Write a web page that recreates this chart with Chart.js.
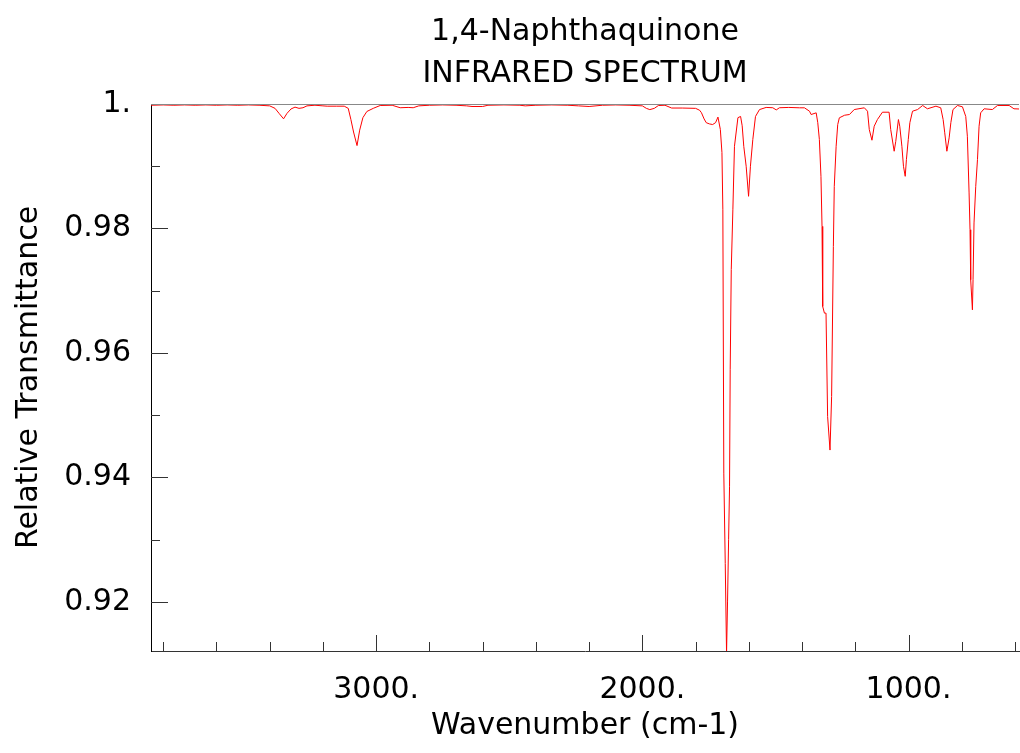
<!DOCTYPE html>
<html>
<head>
<meta charset="utf-8">
<script src="https://cdn.jsdelivr.net/npm/chart.js@4/dist/chart.umd.min.js"></script>
<style>
  body { margin: 0; background: #fff; }
  canvas { display: block; }
</style>
</head>
<body>
<canvas id="irChart" width="1020" height="753"></canvas>
<script>
// Spectrum (wavenumber in cm-1, relative transmittance)
const wavenumbers = [
  3846, 3800, 3760, 3720, 3680, 3640, 3600, 3560, 3520, 3480, 3440, 3400,
  3380, 3365, 3348, 3335, 3320, 3305, 3290, 3275, 3260, 3230, 3200, 3184,
  3150, 3120, 3105, 3095, 3085, 3072, 3062, 3050, 3035, 3011, 2985, 2940,
  2910, 2880, 2861, 2840, 2800, 2750, 2700, 2660, 2640, 2600, 2580, 2520,
  2460, 2440, 2400, 2340, 2280, 2240, 2200, 2150, 2100, 2050, 2000, 1985,
  1972, 1955, 1940, 1915, 1890, 1850, 1800, 1785, 1778, 1768, 1760, 1748,
  1736, 1725, 1716, 1707, 1701, 1697.6, 1694, 1688.6, 1683.7, 1680, 1676, 1672.5,
  1670, 1666, 1660, 1654, 1641, 1631, 1625, 1619, 1610, 1601, 1594, 1585,
  1575, 1560, 1535, 1510, 1497, 1485, 1450, 1410, 1391, 1372, 1366, 1347,
  1341, 1335, 1329, 1325, 1322.5, 1316, 1310, 1304, 1295, 1289, 1282.4, 1279,
  1272, 1266, 1260, 1240, 1222, 1204, 1166, 1154, 1147.5, 1137.5, 1129, 1117,
  1098, 1073, 1067, 1054, 1048, 1038, 1033, 1025, 1019, 1012.5, 1008, 1001,
  995, 985, 966, 947, 929, 897, 879, 870, 864, 856, 847.5, 841,
  833, 816, 797.5, 785, 779, 772.5, 769, 766.5, 760, 757.6, 754, 747.5,
  741, 735, 729, 716, 685, 666, 622, 604, 585
];
const transmittance = [
  0.9998, 0.99985, 0.9998, 0.99985, 0.9998, 0.99985, 0.9998, 0.99985, 0.9998, 0.99985, 0.9998, 0.9997,
  0.9993, 0.9985, 0.99762, 0.9985, 0.9992, 0.9995, 0.9993, 0.9994, 0.9997, 0.9998, 0.9997, 0.99965,
  0.99965, 0.99965, 0.9993, 0.9975, 0.9955, 0.99332, 0.9958, 0.9978, 0.9988, 0.9993, 0.99976, 0.9998,
  0.9994, 0.99945, 0.9994, 0.9997, 0.9998, 0.99985, 0.9998, 0.9997, 0.9996, 0.9996, 0.9998, 0.99985,
  0.9998, 0.9997, 0.9998, 0.99985, 0.9998, 0.9997, 0.9996, 0.9998, 0.99985, 0.9998, 0.9997, 0.9993,
  0.9991, 0.9993, 0.99975, 0.9998, 0.99935, 0.99935, 0.9993, 0.9990, 0.9986, 0.9976, 0.9970, 0.9968,
  0.9967, 0.9970, 0.9979, 0.9959, 0.9922, 0.983, 0.9407, 0.9262, 0.9118, 0.9200, 0.9300, 0.9385,
  0.9573, 0.9734, 0.983, 0.9932, 0.9978, 0.998, 0.9965, 0.9932, 0.990, 0.98517, 0.990, 0.9943,
  0.998, 0.9991, 0.99945, 0.9994, 0.99905, 0.9994, 0.99945, 0.99939, 0.99939, 0.99884, 0.99831, 0.99858,
  0.9970, 0.99429, 0.98838, 0.98034, 0.96747, 0.9664, 0.9664, 0.94977, 0.9444, 0.9530, 0.97712, 0.98677,
  0.99321, 0.9967, 0.99778, 0.9982, 0.99831, 0.99911, 0.99939, 0.99884, 0.9959, 0.99418, 0.99643, 0.9975,
  0.99868, 0.99868, 0.9959, 0.99241, 0.9940, 0.9975, 0.99643, 0.99321, 0.98999, 0.98838, 0.99107, 0.99429,
  0.9970, 0.99884, 0.99911, 0.99976, 0.99923, 0.99965, 0.99939, 0.9975, 0.99537, 0.99241, 0.99456, 0.9970,
  0.99911, 0.99976, 0.99955, 0.9980, 0.99482, 0.98571, 0.9798, 0.97176, 0.96693, 0.97176, 0.98089, 0.98677,
  0.99107, 0.99643, 0.99858, 0.99923, 0.99911, 0.99976, 0.99976, 0.99923, 0.9992
];

const xMajorTicks = [3000, 2000, 1000];
const xMinorTicks = [3800, 3600, 3400, 3200, 2800, 2600, 2400, 2200, 1800, 1600, 1400, 1200, 800, 600];
const yMajorTicks = [1.0, 0.98, 0.96, 0.94, 0.92];
const yMinorTicks = [0.99, 0.97, 0.95, 0.93];

const fontFamily = "'DejaVu Sans', sans-serif";

// inward tick marks + the grey line along the top of the frame
const frameTicks = {
  id: 'frameTicks',
  afterDraw(chart) {
    const { ctx, chartArea, scales } = chart;
    const x = scales.x, y = scales.y;
    ctx.save();
    ctx.lineWidth = 1;
    ctx.strokeStyle = '#888';
    ctx.beginPath();
    ctx.moveTo(chartArea.left, chartArea.top + 0.5);
    ctx.lineTo(chartArea.right, chartArea.top + 0.5);
    ctx.stroke();

    ctx.strokeStyle = '#333';
    ctx.beginPath();
    const drawX = (vals, len) => vals.forEach(v => {
      const px = Math.round(x.getPixelForValue(v)) + 0.5;
      ctx.moveTo(px, chartArea.bottom);
      ctx.lineTo(px, chartArea.bottom - len);
    });
    const drawY = (vals, len) => vals.forEach(v => {
      const py = Math.round(y.getPixelForValue(v)) + 0.5;
      ctx.moveTo(chartArea.left, py);
      ctx.lineTo(chartArea.left + len, py);
    });
    drawX(xMajorTicks, 16);
    drawX(xMinorTicks, 9);
    drawY(yMajorTicks.filter(v => v < 1), 17);
    drawY(yMinorTicks, 9);
    ctx.stroke();
    ctx.restore();
  }
};

const ctx = document.getElementById('irChart').getContext('2d');
new Chart(ctx, {
  type: 'scatter',
  data: {
    datasets: [{
      data: wavenumbers.map((w, i) => ({ x: w, y: transmittance[i] })),
      showLine: true,
      borderColor: '#ff0000',
      borderWidth: 1,
      pointRadius: 0,
      tension: 0
    }]
  },
  options: {
    responsive: false,
    animation: false,
    layout: { padding: { right: 1 } },
    plugins: {
      legend: { display: false },
      tooltip: { enabled: false },
      title: {
        display: true,
        fullSize: false,
        text: ['1,4-Naphthaquinone', 'INFRARED SPECTRUM'],
        color: '#000',
        font: { family: fontFamily, size: 30, weight: 'normal', lineHeight: 1.4 },
        padding: { top: 11, bottom: 9 }
      }
    },
    scales: {
      x: {
        type: 'linear',
        reverse: true,
        min: 585,
        max: 3846,
        grid: { display: false },
        border: { display: true, color: '#333', width: 1 },
        afterBuildTicks: s => { s.ticks = xMajorTicks.map(v => ({ value: v })); },
        afterFit: s => { s.height = 102; },
        ticks: {
          color: '#000',
          padding: 13,
          maxRotation: 0,
          font: { family: fontFamily, size: 30 },
          callback: v => v + '.'
        },
        title: {
          display: true,
          text: 'Wavenumber (cm-1)',
          color: '#000',
          font: { family: fontFamily, size: 30, lineHeight: 1.2 },
          padding: { top: 0, bottom: 9 }
        }
      },
      y: {
        min: 0.91212,
        max: 1.0,
        grid: { display: false },
        border: { display: true, color: '#000', width: 1 },
        afterBuildTicks: s => { s.ticks = yMajorTicks.map(v => ({ value: v })); },
        afterFit: s => { s.width = 151; },
        ticks: {
          color: '#000',
          padding: 12,
          font: { family: fontFamily, size: 30 },
          callback: v => (v === 1 ? '1.' : v.toFixed(2))
        },
        title: {
          display: true,
          text: 'Relative Transmittance',
          color: '#000',
          font: { family: fontFamily, size: 30, lineHeight: 1.2 },
          padding: { top: 11, bottom: 0 }
        }
      }
    }
  },
  plugins: [frameTicks]
});
</script>
</body>
</html>
